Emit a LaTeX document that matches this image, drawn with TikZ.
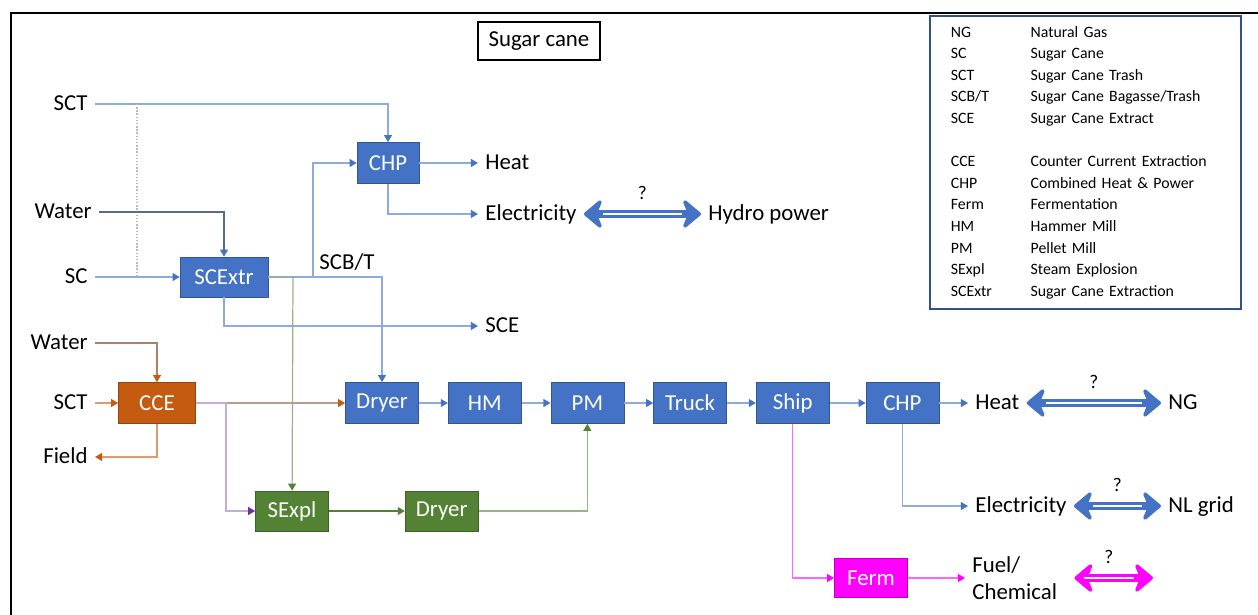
\documentclass[tikz,border=0pt]{standalone}
\usepackage{fontspec}
\setmainfont{Carlito}
\usetikzlibrary{positioning,arrows.meta}
\definecolor{pblue}{HTML}{4472C4}
\definecolor{porange}{HTML}{C55A11}
\definecolor{pgreen}{HTML}{548235}
\definecolor{pmag}{HTML}{FF00FF}
\definecolor{pslate}{HTML}{5B6B86}
\definecolor{pbrown}{HTML}{A8826C}
\definecolor{ppurple}{HTML}{7030A0}
\begin{document}
\begin{tikzpicture}[x=0.02cm, y=-0.02cm,
  box/.style={draw=#1!75!black, fill=#1, text=white, minimum width=1.46cm,
              minimum height=0.82cm, inner sep=2pt, font=\fontsize{13}{15}\selectfont},
  box/.default=pblue,
  lbl/.style={inner sep=4pt, text height=1.7ex, text depth=.2ex, font=\fontsize{13}{15}\selectfont},
  flow/.style={draw=#1!60, line width=0.7pt, -{Triangle[length=4pt,width=4.5pt,color=#1]}},
  flow/.default=pblue,
  dbl/.style={draw=#1, line width=4.2pt, {Stealth[round,length=12pt,width=20pt,inset=4pt]}-{Stealth[round,length=12pt,width=20pt,inset=4pt]},
              postaction={draw=white, line width=1pt, -, shorten <=11pt, shorten >=11pt}},
  dbl/.default=pblue,
  qm/.style={midway, above=5pt, inner sep=1pt, font=\fontsize{11}{13}\selectfont},
  node distance=0.58cm]
\useasboundingbox (0,0) rectangle (1258,615);
\draw[line width=1.2pt] (1258,13) -- (11,13) -- (11,615);
\node[draw, line width=0.6pt, minimum width=2.44cm, minimum height=0.76cm, font=\fontsize{13}{15}\selectfont] (title) at (539,41) {Sugar cane};
\node[draw=pblue!70!black, line width=1pt, anchor=north west, minimum height=5.86cm, inner xsep=0.42cm,
      inner ysep=0pt, text width=5.38cm, align=left, font=\fontsize{9}{12.3}\selectfont] (key) at (929,15) {%
  \begin{tabular}{@{}p{45.4pt}@{}l@{}}
  NG & Natural Gas\\ SC & Sugar Cane\\ SCT & Sugar Cane Trash\\ SCB/T & Sugar Cane Bagasse/Trash\\
  SCE & Sugar Cane Extract\\ & \\ CCE & Counter Current Extraction\\ CHP & Combined Heat \& Power\\
  Ferm & Fermentation\\ HM & Hammer Mill\\ PM & Pellet Mill\\ SExpl & Steam Explosion\\
  SCExtr & Sugar Cane Extraction
  \end{tabular}};
\node[lbl, anchor=east] (scta) at (95,104) {SCT};
\node[lbl, anchor=east] (watera) at (99,212) {Water};
\node[lbl, anchor=east] (sc) at (95,277) {SC};
\node[box, minimum width=1.76cm, minimum height=0.8cm] (scextr) at (224,277) {SCExtr};
\node[box, minimum width=1.24cm] (chpa) at (388,163) {CHP};
\node[lbl, anchor=west] (heata) at (478,163) {Heat};
\node[lbl, anchor=west] (elea) at (478,214) {Electricity};
\node[lbl, anchor=west] (hydro) at (701,214) {Hydro power};
\node[lbl, anchor=west] (sce) at (478,326) {SCE};
\node[lbl] (scbt) at (347,263) {SCB/T};
\coordinate (dtop) at (137,104);
\coordinate (dbot) at (137,277);
\coordinate (split) at (313,277);
\coordinate (gsplit) at (293,277);
\node[lbl, anchor=east] (waterb) at (95,343) {Water};
\node[lbl, anchor=east] (sctb) at (95,403) {SCT};
\node[lbl, anchor=east] (field) at (95,457) {Field};
\node[box=porange, minimum width=1.54cm] (cce) at (157,403) {CCE};
\coordinate (psplit) at (226,403);
\node[box] (dryera) at (382,403) {Dryer};
\node[box, right=of dryera] (hm) {HM};
\node[box, right=of hm] (pm) {PM};
\node[box, right=of pm] (truck) {Truck};
\node[box, right=of truck] (ship) {Ship};
\node[box, right=0.72cm of ship] (chpb) {CHP};
\node[lbl, anchor=west] (heatb) at (968,403) {Heat};
\node[lbl, anchor=west] (ng) at (1161,403) {NG};
\node[lbl, anchor=west] (eleb) at (968,506) {Electricity};
\node[lbl, anchor=west] (nlgrid) at (1161,506) {NL grid};
\node[box=pgreen, minimum height=0.8cm] (sexpl) at (292,511) {SExpl};
\node[box=pgreen, minimum height=0.8cm, right=1.52cm of sexpl] (dryerb) {Dryer};
\node[box=pmag, minimum height=0.78cm] (ferm) at (871,578) {Ferm};
\node[lbl, anchor=west, align=left, text height=, text depth=, font=\fontsize{13}{15.3}\selectfont] (fuel) at (965,578) {Fuel/\\Chemical};
\coordinate (fend) at (1153,578);
\draw[flow] (scta) -| (chpa);
\draw[densely dotted, draw=gray!55, line width=0.8pt] (dtop) -- (dbot);
\draw[flow] (sc) -- (scextr);
\draw[flow=pblue, draw=pslate] (watera) -| (scextr);
\draw[flow] (scextr) -- (split) |- (chpa);
\draw[flow] (split) -| (dryera);
\draw[flow] (scextr) |- (sce);
\draw[flow=pgreen] (scextr.east) -- (gsplit) -- (sexpl);
\draw[flow] (chpa) -- (heata);
\draw[flow] (chpa) |- (elea);
\draw[dbl] (elea) -- (hydro) node[qm] {?};
\draw[flow=porange, draw=pbrown] (waterb) -| (cce);
\draw[flow=porange] (sctb) -- (cce);
\draw[flow=porange] (cce) |- (field);
\draw[flow=porange, draw=pbrown!80] (cce) -- (dryera);
\draw[flow=ppurple, draw=ppurple!40] (cce.east) -- (psplit) |- (sexpl);
\draw[flow] (dryera) -- (hm);
\draw[flow] (hm) -- (pm);
\draw[flow] (pm) -- (truck);
\draw[flow] (truck) -- (ship);
\draw[flow] (ship) -- (chpb);
\draw[flow] (chpb) -- (heatb);
\draw[flow] (chpb) |- (eleb);
\draw[dbl] (heatb) -- (ng) node[qm] {?};
\draw[dbl] (eleb) -- (nlgrid) node[qm] {?};
\draw[flow=pgreen, draw=pgreen] (sexpl) -- (dryerb);
\draw[flow=pgreen] (dryerb) -| (pm);
\draw[flow=pmag] (ship) |- (ferm);
\draw[flow=pmag] (ferm) -- (fuel);
\draw[dbl=pmag, shorten <=5.7pt] (fuel) -- (fend) node[qm] {?};
\end{tikzpicture}
\end{document}
